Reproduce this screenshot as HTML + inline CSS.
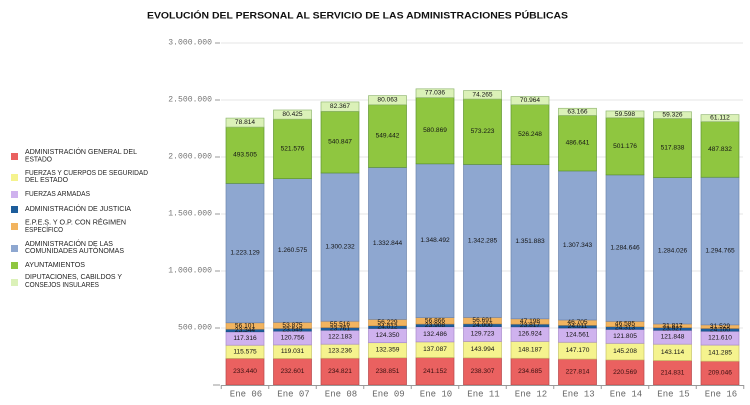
<!DOCTYPE html>
<html>
<head>
<meta charset="utf-8">
<style>
html,body{margin:0;padding:0;background:#fff;}
svg{display:block;}
.v{font-family:"Liberation Sans",sans-serif;font-size:6.6px;fill:#141414;text-anchor:middle;dominant-baseline:central;}
.vr{fill:#3a1010;}
.lg{font-family:"Liberation Sans",sans-serif;font-size:7px;fill:#222;dominant-baseline:central;}
.ya{font-family:"Liberation Mono",monospace;font-size:8.1px;fill:#777;text-anchor:end;dominant-baseline:central;}
.xa{font-family:"Liberation Mono",monospace;font-size:9px;fill:#666;text-anchor:middle;}
.R{fill:#ea6160;stroke:#b5484a;stroke-width:.7}
.Y{fill:#f5f38e;stroke:#c8c46a;stroke-width:.7}
.L{fill:#cfb2ee;stroke:#a88ccc;stroke-width:.7}
.J{fill:#1d5d9b;stroke:#174a7c;stroke-width:.5}
.O{fill:#f2b45f;stroke:#c88f45;stroke-width:.6}
.C{fill:#8ea7d0;stroke:#6e86ae;stroke-width:.7}
.G{fill:#8fc640;stroke:#5e9530;stroke-width:.7}
.D{fill:#dbf1b8;stroke:#93b873;stroke-width:.7}
</style>
</head>
<body>
<svg width="750" height="405" viewBox="0 0 750 405" xmlns="http://www.w3.org/2000/svg">
<rect width="750" height="405" fill="#fff"/>
<text x="147" y="18.3" font-family="Liberation Sans, sans-serif" font-weight="bold" font-size="9.5" fill="#111" textLength="421" lengthAdjust="spacingAndGlyphs">EVOLUCIÓN DEL PERSONAL AL SERVICIO DE LAS ADMINISTRACIONES PÚBLICAS</text>

<!-- gridlines -->
<g stroke="#e6e6e6" stroke-width="1">
<line x1="221" y1="43" x2="743" y2="43"/>
<line x1="221" y1="100" x2="743" y2="100"/>
<line x1="221" y1="157" x2="743" y2="157"/>
<line x1="221" y1="214" x2="743" y2="214"/>
<line x1="221" y1="271" x2="743" y2="271"/>
<line x1="221" y1="328" x2="743" y2="328"/>
</g>
<g stroke="#999" stroke-width="1">
<line x1="215" y1="43" x2="220" y2="43"/>
<line x1="215" y1="100" x2="220" y2="100"/>
<line x1="215" y1="157" x2="220" y2="157"/>
<line x1="215" y1="214" x2="220" y2="214"/>
<line x1="215" y1="271" x2="220" y2="271"/>
<line x1="215" y1="328" x2="220" y2="328"/>
<line x1="213" y1="385" x2="220" y2="385"/>
</g>
<text class="ya" x="212" y="43">3.000.000</text>
<text class="ya" x="212" y="100">2.500.000</text>
<text class="ya" x="212" y="157">2.000.000</text>
<text class="ya" x="212" y="214">1.500.000</text>
<text class="ya" x="212" y="271">1.000.000</text>
<text class="ya" x="212" y="328">500.000</text>

<!-- Bar 06 -->
<g transform="translate(245,0)">
<rect class="R" x="-19" y="358.39" width="38" height="26.61"/>
<rect class="Y" x="-19" y="345.21" width="38" height="13.18"/>
<rect class="L" x="-19" y="331.84" width="38" height="13.37"/>
<rect class="J" x="-19" y="329.18" width="38" height="2.66"/>
<rect class="O" x="-19" y="322.78" width="38" height="6.40"/>
<rect class="C" x="-19" y="183.34" width="38" height="139.44"/>
<rect class="G" x="-19" y="127.09" width="38" height="56.25"/>
<rect class="D" x="-19" y="118.10" width="38" height="8.99"/>
<text class="v vr" x="0" y="371.7">233.440</text>
<text class="v" x="0" y="351.8">115.575</text>
<text class="v" x="0" y="338.5">117.316</text>
<text class="v" x="0" y="330.5">23.344</text>
<text class="v" x="0" y="326.0">56.101</text>
<text class="v" x="0" y="253.1">1.223.129</text>
<text class="v" x="0" y="155.2">493.505</text>
<text class="v" x="0" y="122.6">78.814</text>
</g>

<!-- Bar 07 -->
<g transform="translate(292.5,0)">
<rect class="R" x="-19" y="358.48" width="38" height="26.52"/>
<rect class="Y" x="-19" y="344.91" width="38" height="13.57"/>
<rect class="L" x="-19" y="331.15" width="38" height="13.76"/>
<rect class="J" x="-19" y="328.46" width="38" height="2.69"/>
<rect class="O" x="-19" y="322.32" width="38" height="6.14"/>
<rect class="C" x="-19" y="178.62" width="38" height="143.70"/>
<rect class="G" x="-19" y="119.16" width="38" height="59.46"/>
<rect class="D" x="-19" y="109.99" width="38" height="9.17"/>
<text class="v vr" x="0" y="371.7">232.601</text>
<text class="v" x="0" y="351.7">119.031</text>
<text class="v" x="0" y="338.0">120.756</text>
<text class="v" x="0" y="329.8">23.549</text>
<text class="v" x="0" y="325.4">53.875</text>
<text class="v" x="0" y="250.5">1.260.575</text>
<text class="v" x="0" y="148.9">521.576</text>
<text class="v" x="0" y="114.6">80.425</text>
</g>

<!-- Bar 08 -->
<g transform="translate(340,0)">
<rect class="R" x="-19" y="358.23" width="38" height="26.77"/>
<rect class="Y" x="-19" y="344.18" width="38" height="14.05"/>
<rect class="L" x="-19" y="330.25" width="38" height="13.93"/>
<rect class="J" x="-19" y="327.54" width="38" height="2.71"/>
<rect class="O" x="-19" y="321.22" width="38" height="6.32"/>
<rect class="C" x="-19" y="172.99" width="38" height="148.23"/>
<rect class="G" x="-19" y="111.33" width="38" height="61.66"/>
<rect class="D" x="-19" y="101.94" width="38" height="9.39"/>
<text class="v vr" x="0" y="371.6">234.821</text>
<text class="v" x="0" y="351.2">123.236</text>
<text class="v" x="0" y="337.2">122.183</text>
<text class="v" x="0" y="328.9">23.761</text>
<text class="v" x="0" y="324.4">55.516</text>
<text class="v" x="0" y="247.1">1.300.232</text>
<text class="v" x="0" y="142.2">540.847</text>
<text class="v" x="0" y="106.6">82.367</text>
</g>

<!-- Bar 09 -->
<g transform="translate(387.5,0)">
<rect class="R" x="-19" y="357.77" width="38" height="27.23"/>
<rect class="Y" x="-19" y="342.68" width="38" height="15.09"/>
<rect class="L" x="-19" y="328.51" width="38" height="14.17"/>
<rect class="J" x="-19" y="325.77" width="38" height="2.74"/>
<rect class="O" x="-19" y="319.36" width="38" height="6.41"/>
<rect class="C" x="-19" y="167.41" width="38" height="151.95"/>
<rect class="G" x="-19" y="104.78" width="38" height="62.63"/>
<rect class="D" x="-19" y="95.65" width="38" height="9.13"/>
<text class="v vr" x="0" y="371.4">238.851</text>
<text class="v" x="0" y="350.2">132.359</text>
<text class="v" x="0" y="335.6">124.350</text>
<text class="v" x="0" y="327.1">24.012</text>
<text class="v" x="0" y="322.6">56.229</text>
<text class="v" x="0" y="243.4">1.332.844</text>
<text class="v" x="0" y="136.1">549.442</text>
<text class="v" x="0" y="100.2">80.063</text>
</g>

<!-- Bar 10 -->
<g transform="translate(435,0)">
<rect class="R" x="-19" y="357.51" width="38" height="27.49"/>
<rect class="Y" x="-19" y="341.88" width="38" height="15.63"/>
<rect class="L" x="-19" y="326.78" width="38" height="15.10"/>
<rect class="J" x="-19" y="324.05" width="38" height="2.73"/>
<rect class="O" x="-19" y="317.57" width="38" height="6.48"/>
<rect class="C" x="-19" y="163.84" width="38" height="153.73"/>
<rect class="G" x="-19" y="97.62" width="38" height="66.22"/>
<rect class="D" x="-19" y="88.84" width="38" height="8.78"/>
<text class="v vr" x="0" y="371.3">241.152</text>
<text class="v" x="0" y="349.7">137.087</text>
<text class="v" x="0" y="334.3">132.486</text>
<text class="v" x="0" y="325.4">23.908</text>
<text class="v" x="0" y="320.8">56.866</text>
<text class="v" x="0" y="240.7">1.348.492</text>
<text class="v" x="0" y="130.7">580.869</text>
<text class="v" x="0" y="93.2">77.036</text>
</g>

<!-- Bar 11 -->
<g transform="translate(482.5,0)">
<rect class="R" x="-19" y="357.83" width="38" height="27.17"/>
<rect class="Y" x="-19" y="341.42" width="38" height="16.41"/>
<rect class="L" x="-19" y="326.63" width="38" height="14.79"/>
<rect class="J" x="-19" y="323.89" width="38" height="2.74"/>
<rect class="O" x="-19" y="317.43" width="38" height="6.46"/>
<rect class="C" x="-19" y="164.41" width="38" height="153.02"/>
<rect class="G" x="-19" y="99.06" width="38" height="65.35"/>
<rect class="D" x="-19" y="90.60" width="38" height="8.46"/>
<text class="v vr" x="0" y="371.4">238.307</text>
<text class="v" x="0" y="349.6">143.994</text>
<text class="v" x="0" y="334.0">129.723</text>
<text class="v" x="0" y="325.3">24.000</text>
<text class="v" x="0" y="320.7">56.691</text>
<text class="v" x="0" y="240.9">1.342.285</text>
<text class="v" x="0" y="131.7">573.223</text>
<text class="v" x="0" y="94.8">74.265</text>
</g>

<!-- Bar 12 -->
<g transform="translate(530,0)">
<rect class="R" x="-19" y="358.25" width="38" height="26.75"/>
<rect class="Y" x="-19" y="341.35" width="38" height="16.90"/>
<rect class="L" x="-19" y="326.88" width="38" height="14.47"/>
<rect class="J" x="-19" y="324.17" width="38" height="2.71"/>
<rect class="O" x="-19" y="318.79" width="38" height="5.38"/>
<rect class="C" x="-19" y="164.67" width="38" height="154.12"/>
<rect class="G" x="-19" y="104.68" width="38" height="59.99"/>
<rect class="D" x="-19" y="96.59" width="38" height="8.09"/>
<text class="v vr" x="0" y="371.6">234.685</text>
<text class="v" x="0" y="349.8">148.187</text>
<text class="v" x="0" y="334.1">126.924</text>
<text class="v" x="0" y="325.5">23.817</text>
<text class="v" x="0" y="321.5">47.198</text>
<text class="v" x="0" y="241.7">1.351.883</text>
<text class="v" x="0" y="134.7">526.248</text>
<text class="v" x="0" y="100.6">70.964</text>
</g>

<!-- Bar 13 -->
<g transform="translate(577.5,0)">
<rect class="R" x="-19" y="359.03" width="38" height="25.97"/>
<rect class="Y" x="-19" y="342.25" width="38" height="16.78"/>
<rect class="L" x="-19" y="328.05" width="38" height="14.20"/>
<rect class="J" x="-19" y="325.31" width="38" height="2.74"/>
<rect class="O" x="-19" y="319.99" width="38" height="5.32"/>
<rect class="C" x="-19" y="170.95" width="38" height="149.04"/>
<rect class="G" x="-19" y="115.48" width="38" height="55.47"/>
<rect class="D" x="-19" y="108.28" width="38" height="7.20"/>
<text class="v vr" x="0" y="372.0">227.814</text>
<text class="v" x="0" y="350.6">147.170</text>
<text class="v" x="0" y="335.2">124.561</text>
<text class="v" x="0" y="326.7">24.011</text>
<text class="v" x="0" y="322.7">46.705</text>
<text class="v" x="0" y="245.5">1.307.343</text>
<text class="v" x="0" y="143.2">486.641</text>
<text class="v" x="0" y="111.9">63.166</text>
</g>

<!-- Bar 14 -->
<g transform="translate(625,0)">
<rect class="R" x="-19" y="359.86" width="38" height="25.14"/>
<rect class="Y" x="-19" y="343.30" width="38" height="16.56"/>
<rect class="L" x="-19" y="329.42" width="38" height="13.88"/>
<rect class="J" x="-19" y="326.64" width="38" height="2.78"/>
<rect class="O" x="-19" y="321.33" width="38" height="5.31"/>
<rect class="C" x="-19" y="174.88" width="38" height="146.45"/>
<rect class="G" x="-19" y="117.75" width="38" height="57.13"/>
<rect class="D" x="-19" y="110.96" width="38" height="6.79"/>
<text class="v vr" x="0" y="372.4">220.569</text>
<text class="v" x="0" y="351.6">145.208</text>
<text class="v" x="0" y="336.4">121.805</text>
<text class="v" x="0" y="328.0">24.313</text>
<text class="v" x="0" y="324.0">46.585</text>
<text class="v" x="0" y="248.1">1.284.646</text>
<text class="v" x="0" y="146.3">501.176</text>
<text class="v" x="0" y="114.4">59.598</text>
</g>

<!-- Bar 15 -->
<g transform="translate(672.5,0)">
<rect class="R" x="-19" y="360.51" width="38" height="24.49"/>
<rect class="Y" x="-19" y="344.19" width="38" height="16.32"/>
<rect class="L" x="-19" y="330.30" width="38" height="13.89"/>
<rect class="J" x="-19" y="327.58" width="38" height="2.72"/>
<rect class="O" x="-19" y="323.95" width="38" height="3.63"/>
<rect class="C" x="-19" y="177.57" width="38" height="146.38"/>
<rect class="G" x="-19" y="118.54" width="38" height="59.03"/>
<rect class="D" x="-19" y="111.77" width="38" height="6.77"/>
<text class="v vr" x="0" y="372.8">214.831</text>
<text class="v" x="0" y="352.4">143.114</text>
<text class="v" x="0" y="337.2">121.848</text>
<text class="v" x="0" y="328.9">23.927</text>
<text class="v" x="0" y="325.8">31.817</text>
<text class="v" x="0" y="250.8">1.284.026</text>
<text class="v" x="0" y="148.1">517.838</text>
<text class="v" x="0" y="115.2">59.326</text>
</g>

<!-- Bar 16 -->
<g transform="translate(720,0)">
<rect class="R" x="-19" y="361.17" width="38" height="23.83"/>
<rect class="Y" x="-19" y="345.06" width="38" height="16.11"/>
<rect class="L" x="-19" y="331.20" width="38" height="13.86"/>
<rect class="J" x="-19" y="328.45" width="38" height="2.75"/>
<rect class="O" x="-19" y="324.86" width="38" height="3.59"/>
<rect class="C" x="-19" y="177.25" width="38" height="147.61"/>
<rect class="G" x="-19" y="121.64" width="38" height="55.61"/>
<rect class="D" x="-19" y="114.67" width="38" height="6.97"/>
<text class="v vr" x="0" y="373.1">209.046</text>
<text class="v" x="0" y="353.1">141.285</text>
<text class="v" x="0" y="338.1">121.610</text>
<text class="v" x="0" y="329.8">24.100</text>
<text class="v" x="0" y="326.7">31.529</text>
<text class="v" x="0" y="251.1">1.294.765</text>
<text class="v" x="0" y="149.4">487.832</text>
<text class="v" x="0" y="118.2">61.112</text>
</g>

<!-- x axis -->
<line x1="221" y1="385.5" x2="744" y2="385.5" stroke="#999" stroke-width="1"/>
<g stroke="#999" stroke-width="1">
<line x1="221.25" y1="385" x2="221.25" y2="389"/>
<line x1="268.75" y1="385" x2="268.75" y2="389"/>
<line x1="316.25" y1="385" x2="316.25" y2="389"/>
<line x1="363.75" y1="385" x2="363.75" y2="389"/>
<line x1="411.25" y1="385" x2="411.25" y2="389"/>
<line x1="458.75" y1="385" x2="458.75" y2="389"/>
<line x1="506.25" y1="385" x2="506.25" y2="389"/>
<line x1="553.75" y1="385" x2="553.75" y2="389"/>
<line x1="601.25" y1="385" x2="601.25" y2="389"/>
<line x1="648.75" y1="385" x2="648.75" y2="389"/>
<line x1="696.25" y1="385" x2="696.25" y2="389"/>
<line x1="743.75" y1="385" x2="743.75" y2="389"/>
</g>
<text class="xa" x="246" y="396.5">Ene 06</text>
<text class="xa" x="293.5" y="396.5">Ene 07</text>
<text class="xa" x="341" y="396.5">Ene 08</text>
<text class="xa" x="388.5" y="396.5">Ene 09</text>
<text class="xa" x="436" y="396.5">Ene 10</text>
<text class="xa" x="483.5" y="396.5">Ene 11</text>
<text class="xa" x="531" y="396.5">Ene 12</text>
<text class="xa" x="578.5" y="396.5">Ene 13</text>
<text class="xa" x="626" y="396.5">Ene 14</text>
<text class="xa" x="673.5" y="396.5">Ene 15</text>
<text class="xa" x="721" y="396.5">Ene 16</text>

<!-- legend -->
<rect x="11" y="153" width="7" height="7" fill="#ea6160"/>
<rect x="11" y="174" width="7" height="7" fill="#f5f38e"/>
<rect x="11" y="191" width="7" height="7" fill="#cfb2ee"/>
<rect x="11" y="206" width="7" height="7" fill="#1d5d9b"/>
<rect x="11" y="223" width="7" height="7" fill="#f2b45f"/>
<rect x="11" y="245" width="7" height="7" fill="#8ea7d0"/>
<rect x="11" y="262" width="7" height="7" fill="#8fc640"/>
<rect x="11" y="279" width="7" height="7" fill="#dbf1b8"/>

<text class="lg" x="25" y="152.7" textLength="112" lengthAdjust="spacingAndGlyphs">ADMINISTRACIÓN GENERAL DEL</text>
<text class="lg" x="25" y="160" textLength="27" lengthAdjust="spacingAndGlyphs">ESTADO</text>
<text class="lg" x="25" y="173.3" textLength="123" lengthAdjust="spacingAndGlyphs">FUERZAS Y CUERPOS DE SEGURIDAD</text>
<text class="lg" x="25" y="180.7" textLength="43" lengthAdjust="spacingAndGlyphs">DEL ESTADO</text>
<text class="lg" x="25" y="194.3" textLength="65" lengthAdjust="spacingAndGlyphs">FUERZAS ARMADAS</text>
<text class="lg" x="25" y="209.3" textLength="106" lengthAdjust="spacingAndGlyphs">ADMINISTRACIÓN DE JUSTICIA</text>
<text class="lg" x="25" y="223" textLength="101" lengthAdjust="spacingAndGlyphs">E.P.E.S. Y O.P. CON RÉGIMEN</text>
<text class="lg" x="25" y="230.3" textLength="38" lengthAdjust="spacingAndGlyphs">ESPECÍFICO</text>
<text class="lg" x="25" y="244.3" textLength="88" lengthAdjust="spacingAndGlyphs">ADMINISTRACIÓN DE LAS</text>
<text class="lg" x="25" y="251.3" textLength="99" lengthAdjust="spacingAndGlyphs">COMUNIDADES AUTÓNOMAS</text>
<text class="lg" x="25" y="265.7" textLength="60" lengthAdjust="spacingAndGlyphs">AYUNTAMIENTOS</text>
<text class="lg" x="25" y="277.7" textLength="97" lengthAdjust="spacingAndGlyphs">DIPUTACIONES, CABILDOS Y</text>
<text class="lg" x="25" y="285.5" textLength="74" lengthAdjust="spacingAndGlyphs">CONSEJOS INSULARES</text>
</svg>
</body>
</html>
